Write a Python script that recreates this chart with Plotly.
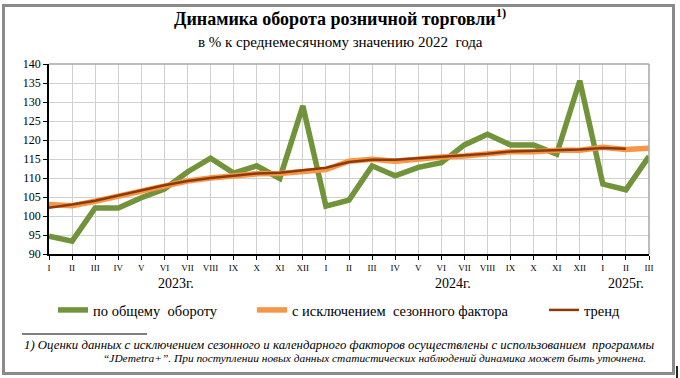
import plotly.graph_objects as go

months = ["I", "II", "III", "IV", "V", "VI", "VII", "VIII", "IX", "X", "XI", "XII",
          "I", "II", "III", "IV", "V", "VI", "VII", "VIII", "IX", "X", "XI", "XII",
          "I", "II", "III"]
years = ["2023г.", "2024г.", "2025г."]
year_centers = [5.5, 17.5, 25]

total = [94.7, 93.4, 102.1, 102.1, 104.8, 107.1, 111.6, 115.2, 111.3, 113.2, 109.9, 129.0,
         102.6, 104.2, 113.2, 110.6, 112.8, 114.0, 118.7, 121.5, 118.7, 118.7, 116.3, 135.6,
         108.4, 106.9, 115.7]
seasonal = [103.0, 102.7, 103.9, 105.2, 106.5, 108.0, 109.2, 110.0, 110.5, 111.1, 111.2, 111.8,
            112.2, 114.4, 114.9, 114.4, 115.0, 115.5, 115.8, 116.3, 116.9, 116.9, 117.3, 117.3,
            118.1, 117.5, 117.8]
trend = [102.2, 103.0, 104.0, 105.4, 106.7, 108.1, 109.2, 110.0, 110.6, 111.2, 111.4, 112.0,
         112.7, 114.2, 114.8, 114.8, 115.2, 115.7, 116.0, 116.4, 117.0, 117.2, 117.4, 117.5,
         117.9, 117.7]

names = ["по общему  обороту", "с исключением  сезонного фактора", "тренд"]

W, H = 680, 378
L, R, T, B = 49, 649, 64, 254


def px(x):
    return (x - L) / (R - L)


def py(y):
    return (B - y) / (B - T)


FONT = "Liberation Serif, Times New Roman, serif"
x = list(range(len(months)))

fig = go.Figure()
fig.add_trace(go.Scatter(x=x, y=total, mode="lines", name=names[0],
                         line=dict(color="#71933a", width=5.5), legend="legend"))
fig.add_trace(go.Scatter(x=x, y=seasonal, mode="lines", name=names[1],
                         line=dict(color="#f79646", width=5.5), legend="legend2"))
fig.add_trace(go.Scatter(x=x[:len(trend)], y=trend, mode="lines", name=names[2],
                         line=dict(color="#8f390b", width=2.5), legend="legend3"))

leg_common = dict(orientation="h", yanchor="middle", y=py(310), xanchor="left",
                  font=dict(family=FONT, size=14.5, color="#000"), bgcolor="rgba(0,0,0,0)",
                  itemwidth=30, tracegroupgap=0)
fig.update_layout(
    width=W, height=H,
    margin=dict(l=L, r=W - R, t=T, b=H - B),
    paper_bgcolor="white", plot_bgcolor="white",
    showlegend=True,
    legend=dict(leg_common, x=px(53)),
    legend2=dict(leg_common, x=px(252)),
    legend3=dict(leg_common, x=px(544)),
    xaxis=dict(range=[0, 26], tickmode="array", tickvals=x, ticktext=months,
               showgrid=True, gridcolor="#d0d0d0", gridwidth=1,
               showline=True, linecolor="#000", linewidth=1.5,
               ticks="outside", ticklen=4, tickcolor="#000",
               tickfont=dict(family=FONT, size=9, color="#000"), zeroline=False),
    yaxis=dict(range=[90, 140], tickmode="array", tickvals=list(range(90, 141, 5)),
               showgrid=True, gridcolor="#d0d0d0", gridwidth=1,
               showline=True, linecolor="#000", linewidth=1.5,
               ticks="outside", ticklen=4, tickcolor="#000",
               tickfont=dict(family=FONT, size=12, color="#000"), zeroline=False),
)

# plot area gray border (top, right)
fig.add_shape(type="line", xref="paper", yref="paper", x0=0, x1=1, y0=1, y1=1,
              line=dict(color="#a6a6a6", width=1.5))
fig.add_shape(type="line", xref="paper", yref="paper", x0=1, x1=1, y0=0, y1=1,
              line=dict(color="#a6a6a6", width=1.5))
# outer frame
fig.add_shape(type="rect", xref="paper", yref="paper", x0=px(3.5), x1=px(673.5),
              y0=py(373.5), y1=py(5.5), line=dict(color="#8a8a8a", width=3), layer="above")
fig.add_shape(type="line", xref="paper", yref="paper", x0=px(677), x1=px(677),
              y0=py(366), y1=py(378), line=dict(color="#222", width=2))
# footnote separator
fig.add_shape(type="line", xref="paper", yref="paper", x0=px(22), x1=px(147),
              y0=py(334), y1=py(334), line=dict(color="#000", width=1))

ann = []
ann.append(dict(text="<b>Динамика оборота розничной торговли<sup>1)</sup></b>", x=px(340), y=py(18),
                font=dict(family=FONT, size=18, color="#000")))
ann.append(dict(text="в % к среднемесячному значению 2022  года", x=px(340), y=py(42),
                font=dict(family=FONT, size=15, color="#000")))
for yr, c in zip(years, year_centers):
    ann.append(dict(text=yr, x=c, xref="x", y=py(283),
                    font=dict(family=FONT, size=14, color="#000")))
ann.append(dict(text="<i>1) Оценки данных с исключением сезонного и календарного факторов осуществлены с использованием  программы</i>",
                x=px(339), y=py(345), font=dict(family=FONT, size=12.8, color="#000")))
ann.append(dict(text="<i>“JDemetra+”. При поступлении новых данных статистических наблюдений динамика может быть уточнена.</i>",
                x=px(374), y=py(358), font=dict(family=FONT, size=11.4, color="#000")))
for a in ann:
    a.setdefault("xref", "paper")
    a["yref"] = "paper"
    a["showarrow"] = False
    a["xanchor"] = "center"
    a["yanchor"] = "middle"
fig.update_layout(annotations=ann)

fig.write_html("out.html", config={"displayModeBar": False},
               post_script="document.body.style.margin='0px';")
